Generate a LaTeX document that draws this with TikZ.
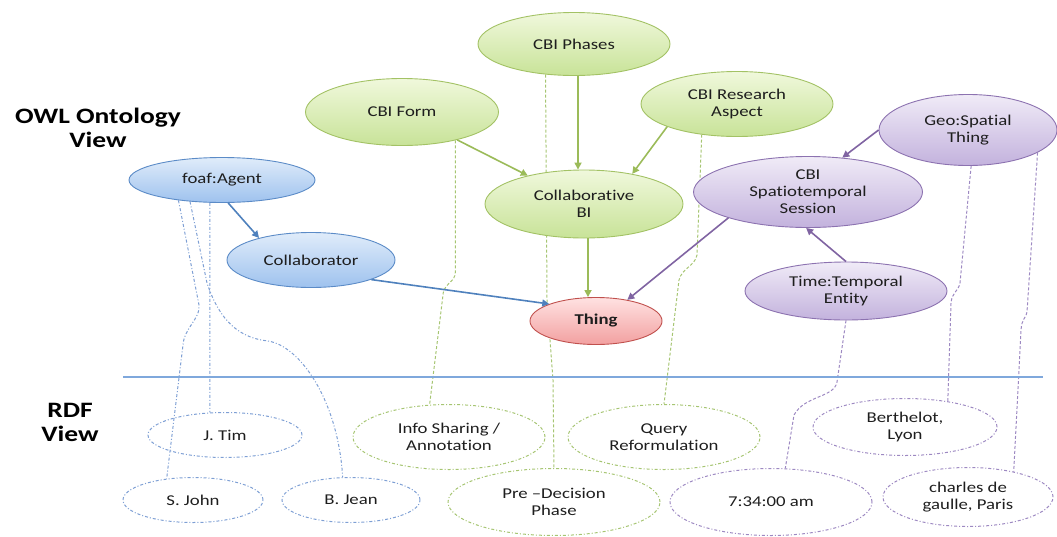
\documentclass[tikz,border=0pt]{standalone}
\usepackage{fontspec}
\setmainfont[FakeStretch=1.25,Ligatures=NoCommon]{Carlito}
\usetikzlibrary{shapes.geometric,arrows.meta,backgrounds,calc}
\definecolor{gE}{HTML}{A3C265}
\definecolor{gT}{HTML}{F0F8DC}
\definecolor{gB}{HTML}{C8E398}
\definecolor{bE}{HTML}{5B8BC7}
\definecolor{bT}{HTML}{E0ECFA}
\definecolor{bB}{HTML}{9EC2EE}
\definecolor{pE}{HTML}{8C72B0}
\definecolor{pT}{HTML}{F0EBF7}
\definecolor{pB}{HTML}{C3B2DD}
\definecolor{rE}{HTML}{C0504D}
\definecolor{rT}{HTML}{FFE2E2}
\definecolor{rB}{HTML}{F2A0A0}
\definecolor{gA}{HTML}{9BBB59}
\definecolor{bA}{HTML}{4F81BD}
\definecolor{pA}{HTML}{8064A2}
\definecolor{gD}{HTML}{A6C572}
\definecolor{bD}{HTML}{7E9FD4}
\definecolor{pD}{HTML}{9D89C2}
\definecolor{hline}{HTML}{7FA8DC}
\definecolor{txt}{HTML}{1E1E1E}
\begin{document}
\begin{tikzpicture}[x=1pt,y=-1pt,
  cls/.style={ellipse, inner sep=0pt, align=center, text=txt,
    font=\fontsize{15}{17}\selectfont, line width=0.9pt},
  gcls/.style={cls, draw=gE, top color=gT, bottom color=gB},
  bcls/.style={cls, draw=bE, top color=bT, bottom color=bB},
  pcls/.style={cls, draw=pE, top color=pT, bottom color=pB},
  rcls/.style={cls, draw=rE, top color=rT, bottom color=rB},
  inst/.style={ellipse, inner sep=0pt, align=center, text=txt,
    font=\fontsize{15}{17}\selectfont, line width=1pt,
    dash pattern=on 3pt off 2pt on 1pt off 2pt},
  garr/.style={draw=gA, line width=1.6pt, -{Triangle[length=7pt,width=7pt]}},
  barr/.style={draw=bA, line width=1.6pt, -{Triangle[length=7pt,width=7pt]}},
  parr/.style={draw=pA, line width=1.6pt, -{Triangle[length=7pt,width=7pt]}},
  bdash/.style={draw=bD, line width=1pt, dash pattern=on 3pt off 2pt on 1pt off 2pt},
  gdash/.style={draw=gD, line width=1pt, dash pattern=on 3pt off 2pt},
  pdash/.style={draw=pD, line width=1pt, dash pattern=on 3pt off 2pt},
  head/.style={align=center, text=black, font=\fontsize{22}{24}\selectfont\bfseries}
]
\useasboundingbox (0,0) rectangle (1057,536);

% headings
\node[head] (owl) at (98,128) {OWL Ontology\\View};
\node[head] (rdf) at (70,422) {RDF\\View};

% separator
\coordinate (sepL) at (123,377);
\coordinate (sepR) at (1043,377);
\draw[hline, line width=1.1pt] (sepL) -- (sepR);

% ontology classes
\node[gcls, minimum width=192pt, minimum height=63pt] (phases) at (574,44) {CBI Phases};
\node[gcls, minimum width=193pt, minimum height=67pt] (form) at (402,112) {CBI Form};
\node[gcls, minimum width=192pt, minimum height=65pt] (research) at (737,104) {CBI Research\\Aspect};
\node[gcls, minimum width=198pt, minimum height=68pt] (collab) at (584,204) {Collaborative\\BI};
\node[bcls, minimum width=186pt, minimum height=45pt] (foaf) at (222,180) {foaf:Agent};
\node[bcls, minimum width=168pt, minimum height=55pt] (collaborator) at (311,260) {Collaborator};
\node[rcls, minimum width=132pt, minimum height=47pt, font=\fontsize{15}{17}\selectfont\bfseries] (thing) at (596,321) {Thing};
\node[pcls, minimum width=229pt, minimum height=71pt] (spatio) at (808,192) {CBI\\Spatiotemporal\\Session};
\node[pcls, minimum width=178pt, minimum height=71pt] (geo) at (968,130) {Geo:Spatial\\Thing};
\node[pcls, minimum width=202pt, minimum height=58pt] (time) at (846,291) {Time:Temporal\\Entity};

% RDF instances
\node[inst, draw=bD, minimum width=154pt, minimum height=45pt] (jtim) at (225,435) {J. Tim};
\node[inst, draw=bD, minimum width=140pt, minimum height=45pt] (sjohn) at (193,500) {S. John};
\node[inst, draw=bD, minimum width=138pt, minimum height=45pt] (bjean) at (351,500) {B. Jean};
\node[inst, draw=gD, minimum width=192pt, minimum height=65pt] (info) at (449,437) {Info Sharing /\\Annotation};
\node[inst, draw=gD, minimum width=192pt, minimum height=65pt] (query) at (664,437) {Query\\Reformulation};
\node[inst, draw=gD, minimum width=212pt, minimum height=67pt] (predec) at (554,502) {Pre –Decision\\Phase};
\node[inst, draw=pD, minimum width=184pt, minimum height=57pt] (berth) at (905,427) {Berthelot,\\Lyon};
\node[inst, draw=pD, minimum width=202pt, minimum height=67pt] (seven) at (771,502) {7:34:00 am};
\node[inst, draw=pD, minimum width=170pt, minimum height=59pt] (charles) at (968,497) {charles de\\gaulle, Paris};

% subclass arrows
\draw[garr] (form) -- (collab);
\draw[garr] ($(phases.south)+(4,0)$) -- ($(phases.south |- collab.north)+(4,0)$);
\draw[garr] (research.198) -- (collab.32);
\draw[garr] ($(collab.south)+(4,0)$) -- ($(collab.south |- thing.north)+(4,0)$);
\draw[barr] (foaf.-75) -- (collaborator.157);
\draw[barr] (collaborator.-18) -- (thing.160);
\draw[parr] (spatio.198) -- (thing.34);
\draw[parr] (geo.180) -- (spatio.45);
\draw[parr] (time.north) -- (spatio.-93);

% instance-of links
\begin{scope}[on background layer]
\draw[bdash] (foaf.242) -- (jtim.124);
\draw[bdash] (foaf.205) -- (199,305) .. controls (201,318) and (184,328) .. (183,345) -- (sjohn.141);
\draw[bdash] (foaf.214) -- (207,283) .. controls (220,322) and (240,338) .. (268,341) .. controls (300,346) and (338,400) .. (bjean.110);
\draw[gdash] (form.-28) -- ++(0,132) .. controls +(0,9) and +(2,-9) .. ++(-12,20) -- (info.121);
\draw[gdash] (phases.227) -- (547,300) -- (553,380) -- (predec.north);
\draw[gdash] (research.221) -- (697,255) .. controls (695,266) and (682,268) .. (679,280) -- (query.north);
\draw[pdash] (time.south) -- (837,382) .. controls (834,398) and (805,395) .. (794,415) -- (seven.67);
\draw[pdash] (geo.-85) -- (960,283) .. controls (958,292) and (952,292) .. (951,303) -- (berth.31);
\draw[pdash] (geo.-18) -- (1027,312) .. controls (1025,320) and (1022,318) .. (1021,330) -- (charles.29);
\end{scope}
\end{tikzpicture}
\end{document}
